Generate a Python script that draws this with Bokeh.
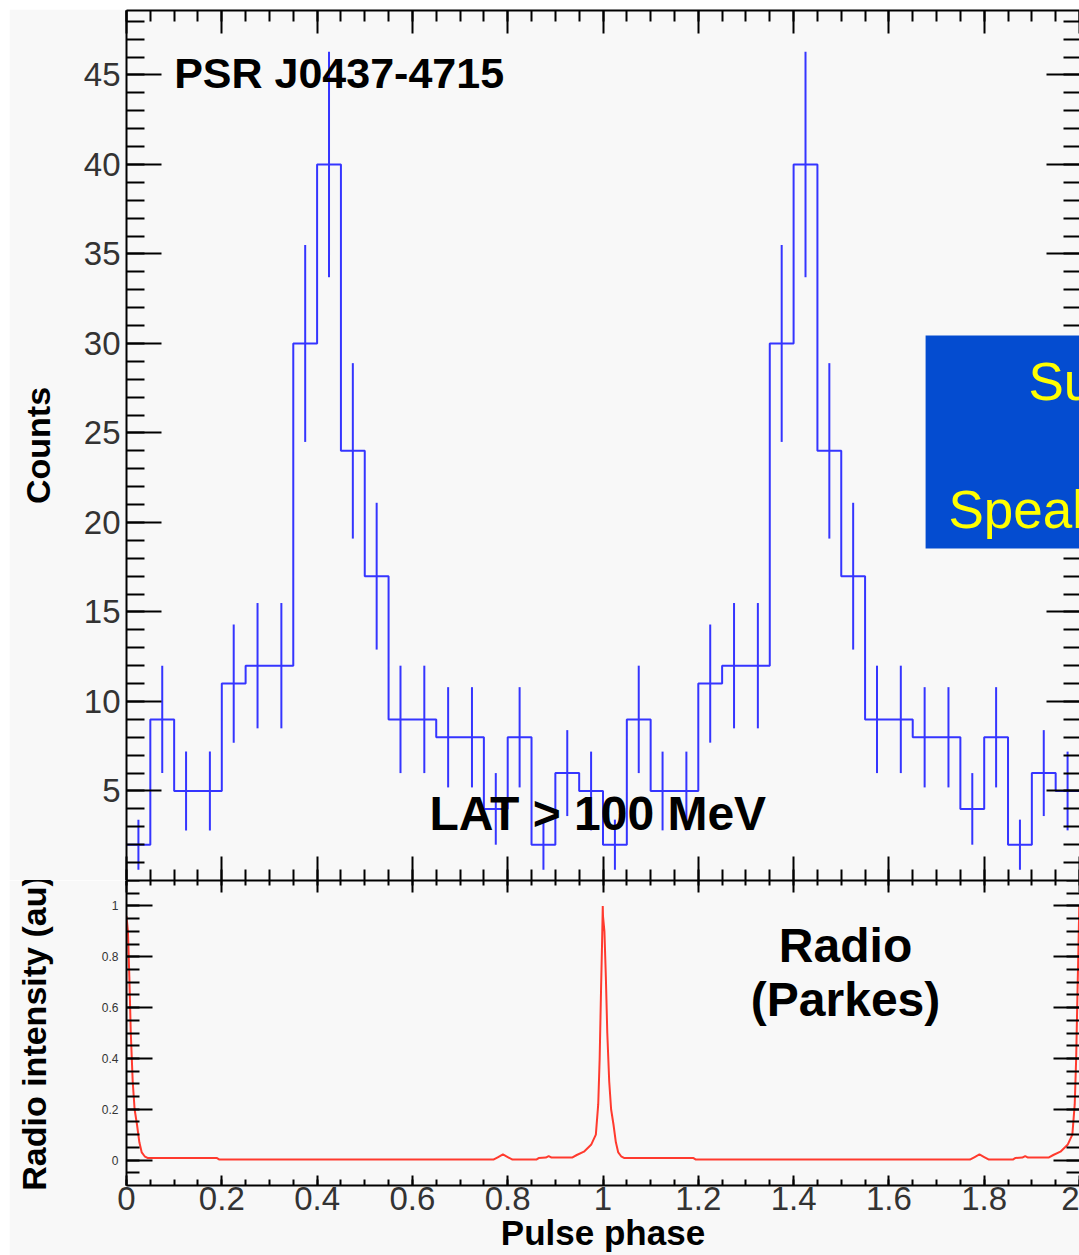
from bokeh.plotting import figure
from bokeh.layouts import column
from bokeh.models import (LinearAxis, FixedTicker, Range1d, BoxAnnotation, Label,
                          CustomJSTickFormatter, CustomLabelingPolicy)
from bokeh.embed import file_html
from bokeh.resources import INLINE

# ---- data -------------------------------------------------------------
# Fermi-LAT photon counts (> 100 MeV) per 0.05-wide phase bin, one rotation
bin_width = 0.05
lat_counts = [2, 9, 5, 5, 11, 12, 12, 30, 40, 24, 17, 9, 9, 8, 8, 4, 8, 2, 6, 5]
lat_errors = [1.4, 3.0, 2.2, 2.2, 3.3, 3.5, 3.5, 5.5, 6.3, 4.9, 4.1, 3.0, 3.0,
              2.8, 2.8, 2.0, 2.8, 1.4, 2.4, 2.2]

# Parkes radio profile, one rotation (normalised intensity)
radio_phase = [0.000, 0.003, 0.006, 0.009, 0.013, 0.017, 0.022, 0.027, 0.032,
               0.038, 0.045, 0.060, 0.120, 0.190, 0.195, 0.400, 0.600, 0.770,
               0.780, 0.790, 0.800, 0.810, 0.860, 0.865, 0.880, 0.886, 0.892,
               0.935, 0.945, 0.960, 0.975, 0.985, 0.990, 0.993, 0.996, 0.998,
               0.9995]
radio_intensity = [0.96, 0.90, 0.72, 0.50, 0.31, 0.20, 0.14, 0.07, 0.03,
                   0.015, 0.008, 0.008, 0.008, 0.008, 0.002, 0.002, 0.002, 0.002,
                   0.012, 0.022, 0.012, 0.002, 0.002, 0.008, 0.010, 0.016, 0.010,
                   0.010, 0.020, 0.033, 0.060, 0.100, 0.220, 0.400, 0.680, 0.850,
                   1.000]

phase_ticks = [0, 0.2, 0.4, 0.6, 0.8, 1.0, 1.2, 1.4, 1.6, 1.8, 2.0]
count_ticks = [5, 10, 15, 20, 25, 30, 35, 40, 45]
radio_ticks = [0, 0.2, 0.4, 0.6, 0.8, 1.0]

# two rotations are shown
n_rot = 2
counts2 = lat_counts * n_rot
errors2 = lat_errors * n_rot
edges = [round(i * bin_width, 4) for i in range(len(counts2) + 1)]
centers = [round((i + 0.5) * bin_width, 4) for i in range(len(counts2))]
radio_x = [p + k for k in range(n_rot) for p in radio_phase]
radio_y = radio_intensity * n_rot

# ---- style ------------------------------------------------------------
FONT = "Liberation Sans"
BG = "#f8f8f8"
HIST = "#3535ff"
RADIO = "#ff3a2e"
TICK_COLOR = "#333333"


def axis(ticker, major_in, minor_in, line=True, labels=False, **kw):
    ax = LinearAxis(ticker=ticker, major_tick_in=major_in, major_tick_out=0,
                    minor_tick_in=minor_in, minor_tick_out=0,
                    axis_line_color="black" if line else None, axis_line_width=2,
                    major_tick_line_width=2, minor_tick_line_width=2,
                    major_tick_line_color="black", minor_tick_line_color="black",
                    major_label_text_font=FONT, major_label_text_color=TICK_COLOR,
                    axis_label_text_font=FONT, axis_label_text_font_style="bold",
                    axis_label_text_color="black", **kw)
    if not labels:
        ax.major_label_policy = CustomLabelingPolicy(code="return new Set()")
        ax.major_label_text_font_size = "0px"
        ax.major_label_standoff = 0
    return ax


def phase_ticker():
    return FixedTicker(ticks=phase_ticks,
                       minor_ticks=[round(i * bin_width, 4) for i in range(41)])


def short_fmt():
    return CustomJSTickFormatter(code="return tick.toFixed(1).replace(/\\.0$/, '')")


# ---- upper panel: gamma-ray light curve ---------------------------------
top = figure(width=1070, height=871, x_range=Range1d(0, 2), y_range=Range1d(0, 48.6),
             output_backend="svg", toolbar_location=None,
             x_axis_location=None, y_axis_location=None,
             min_border_left=117, min_border_right=0, min_border_top=1,
             min_border_bottom=0, background_fill_color=BG, border_fill_color=BG,
             outline_line_color=None)
top.xgrid.visible = False
top.ygrid.visible = False

count_minor = list(range(1, 49))
left_c = axis(FixedTicker(ticks=count_ticks, minor_ticks=count_minor), 35, 18,
              labels=True, axis_label="Counts",
              major_label_text_font_size="33px", major_label_standoff=6,
              axis_label_text_font_size="34px", axis_label_standoff=24)
top.add_layout(left_c, "left")
top.add_layout(axis(FixedTicker(ticks=count_ticks, minor_ticks=count_minor),
                    33, 16, line=False), "right")
top.add_layout(axis(phase_ticker(), 23, 11), "above")
top.add_layout(axis(phase_ticker(), 24, 11), "below")

top.step(x=edges, y=counts2 + [counts2[-1]], mode="after", line_color=HIST,
         line_width=2)
top.segment(x0=centers, y0=[c - e for c, e in zip(counts2, errors2)],
            x1=centers, y1=[c + e for c, e in zip(counts2, errors2)],
            line_color=HIST, line_width=2)

top.add_layout(Label(x=0.100, y=45.1, text="PSR J0437-4715", text_font=FONT,
                     text_font_style="bold", text_font_size="43px",
                     text_baseline="middle", text_color="black"))
top.add_layout(Label(x=0.636, y=3.75, text="LAT > 100 MeV", text_font=FONT,
                     text_font_style="bold", text_font_size="48px",
                     text_baseline="middle", text_color="black"))

# banner overlaid on the right-hand side
banner = BoxAnnotation(left=1.677, right=2.0, bottom=18.55, top=30.45,
                       fill_color="#044cd0", fill_alpha=1.0, line_color=None,
                       level="overlay")
top.add_layout(banner)
top.add_layout(Label(x=1.893, y=27.9, text="Su", text_font=FONT,
                     text_font_size="53px", text_color="#ffff00",
                     text_baseline="middle", level="overlay"))
top.add_layout(Label(x=1.725, y=20.7, text="Speal", text_font=FONT,
                     text_font_size="53px", text_color="#ffff00",
                     text_baseline="middle", level="overlay"))

# ---- lower panel: radio profile ---------------------------------------
bot = figure(width=1070, height=375, x_range=top.x_range, y_range=Range1d(-0.1, 1.1),
             output_backend="svg", toolbar_location=None,
             x_axis_location=None, y_axis_location=None,
             min_border_left=117, min_border_right=0, min_border_top=0,
             min_border_bottom=70, background_fill_color=BG, border_fill_color=BG,
             outline_line_color=None)
bot.xgrid.visible = False
bot.ygrid.visible = False

radio_minor = [round(-0.05 + i * 0.05, 3) for i in range(24)]
left_r = axis(FixedTicker(ticks=radio_ticks, minor_ticks=radio_minor), 26, 13,
              labels=True, axis_label="Radio intensity (au)",
              major_label_text_font_size="12px", major_label_standoff=8,
              axis_label_text_font_size="34px", axis_label_standoff=46)
left_r.formatter = short_fmt()
bot.add_layout(left_r, "left")
bot.add_layout(axis(FixedTicker(ticks=radio_ticks, minor_ticks=radio_minor), 26, 13,
                    line=False), "right")
bot.add_layout(axis(phase_ticker(), 12, 5), "above")
below_r = axis(phase_ticker(), 10, 6, labels=True, axis_label="Pulse phase",
               major_label_text_font_size="33px", major_label_standoff=1,
               axis_label_text_font_size="35px", axis_label_standoff=0)
below_r.formatter = short_fmt()
bot.add_layout(below_r, "below")

bot.line(x=radio_x, y=radio_y, line_color=RADIO, line_width=2)

bot.add_layout(Label(x=1.509, y=0.845, text="Radio", text_font=FONT,
                     text_font_style="bold", text_font_size="48px",
                     text_align="center", text_baseline="middle", text_color="black"))
bot.add_layout(Label(x=1.509, y=0.63, text="(Parkes)", text_font=FONT,
                     text_font_style="bold", text_font_size="48px",
                     text_align="center", text_baseline="middle", text_color="black"))

layout = column(top, bot, spacing=0, margin=(9, 0, 0, 9))

with open("out.html", "w") as f:
    f.write(file_html(layout, INLINE))
